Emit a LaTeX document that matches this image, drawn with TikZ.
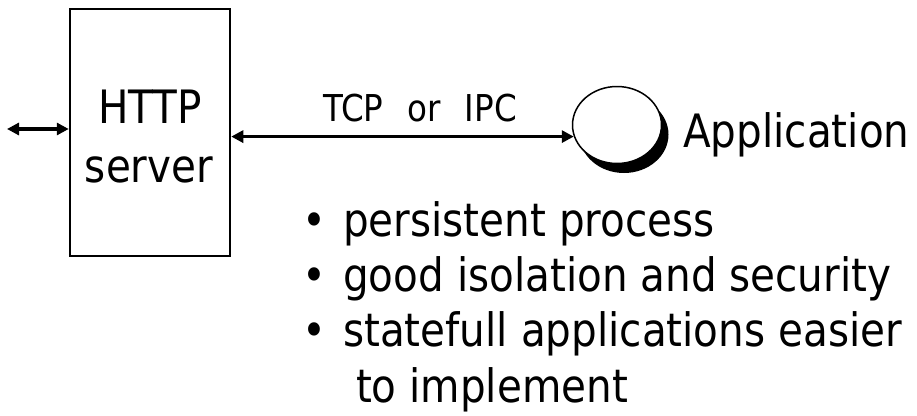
\documentclass[tikz,border=0pt]{standalone}
\usepackage{fontspec}
\setmainfont{DejaVu Sans}[FakeStretch=0.88]
\usetikzlibrary{arrows.meta,shapes.geometric}
\newcommand\mybullet{\llap{\makebox[58pt][c]{•}}}
\begin{document}
\begin{tikzpicture}[x=1pt,y=-1pt,
  txt/.style={font=\fontsize{46}{55}\selectfont, inner sep=0pt, anchor=base west},
  ctxt/.style={font=\fontsize{46}{55}\selectfont, inner sep=0pt, anchor=base},
  conn/.style={line width=3.5pt, {Triangle[length=12pt,width=12pt]}-{Triangle[length=12pt,width=12pt]}},
  oval/.style={ellipse, minimum width=89pt, minimum height=77pt, inner sep=0pt},
]
\useasboundingbox (0,0) rectangle (917,415);
% HTTP server box
\node[draw, line width=2.5pt, minimum width=160pt, minimum height=247pt, inner sep=0pt] (server) at (150,132.5) {};
\node[ctxt] (http) at (150,123) {HTTP};
\node[ctxt] (srv) at (149,182) {server};
% application circle with shadow
\node[oval, fill=black] (appshadow) at (624,134.5) {};
\node[oval, draw, fill=white, line width=1.5pt] (app) at (617,125) {};
\node[txt] (apptxt) at (683,147) {Application};
% connectors
\coordinate (lend) at (7,129);
\draw[conn] (lend) -- (server.west |- lend);
\draw[conn] (server.east |- app.195) -- (app.195);
\node[font=\fontsize{37}{40}\selectfont, inner sep=0pt, anchor=base] (tcp) at (420,121) {TCP\hspace{24pt}or\hspace{24pt}IPC};
% bullets
\node[txt] (b1) at (343,236) {\mybullet persistent process};
\node[txt] (b2) at (343,291.3) {\mybullet good isolation and security};
\node[txt] (b3) at (343,346.7) {\mybullet statefull applications easier};
\node[txt] (b4) at (343,402) {\ to implement};
\end{tikzpicture}
\end{document}
